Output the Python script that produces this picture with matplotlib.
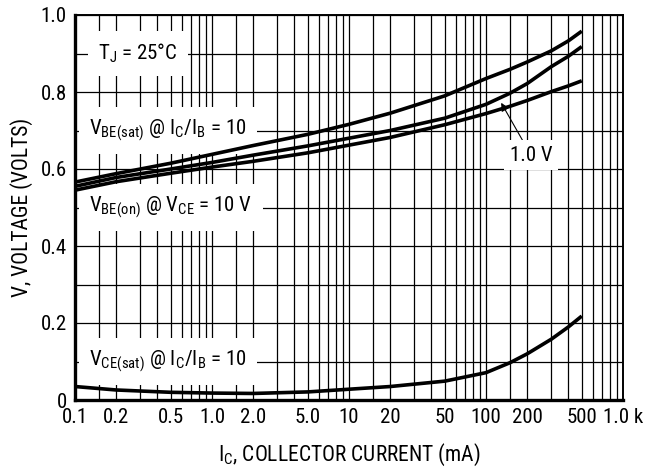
import matplotlib
matplotlib.use("Agg")
import matplotlib.pyplot as plt
import matplotlib.font_manager as fm
from matplotlib.ticker import FixedLocator, NullLocator

# ---- data ----
ic_ma = [0.1, 0.2, 0.5, 1, 2, 5, 10, 20, 50, 100, 150, 200, 300, 400, 500]
vbe_sat = [0.566, 0.588, 0.615, 0.638, 0.661, 0.690, 0.716, 0.745, 0.790, 0.835, 0.859, 0.878, 0.907, 0.933, 0.958]
vbe_on_1v = [0.555, 0.578, 0.600, 0.617, 0.636, 0.660, 0.680, 0.700, 0.732, 0.768, 0.797, 0.822, 0.866, 0.893, 0.918]
vbe_on_10v = [0.545, 0.567, 0.589, 0.605, 0.620, 0.642, 0.662, 0.682, 0.715, 0.744, 0.763, 0.778, 0.801, 0.816, 0.829]
vce_sat = [0.035, 0.026, 0.020, 0.018, 0.017, 0.021, 0.028, 0.035, 0.049, 0.071, 0.097, 0.120, 0.158, 0.190, 0.218]

x_ticks = [0.1, 0.2, 0.5, 1, 2, 5, 10, 20, 50, 100, 200, 500, 1000]
x_tick_labels = ["0.1", "0.2", "0.5", "1.0", "2.0", "5.0", "10", "20", "50", "100", "200", "500", "1.0 k"]
y_ticks = [0, 0.2, 0.4, 0.6, 0.8, 1.0]
y_tick_labels = ["0", "0.2", "0.4", "0.6", "0.8", "1.0"]
x_grid = [m * d for d in (0.1, 1, 10, 100) for m in (1, 1.5, 2, 3, 4, 5, 6, 7, 8, 9)] + [1000]
y_grid = [0.1 * k for k in range(11)]

# ---- pick a narrow sans font if one is installed ----
ttf = fm.fontManager.ttflist
family, stretch, narrow = "Liberation Sans", "normal", False
for cand in ["Liberation Sans Narrow", "Arial Narrow", "Roboto Condensed", "Nimbus Sans Narrow"]:
    if any(f.name == cand for f in ttf):
        family, narrow = cand, True
        break
else:
    for fam in ["Liberation Sans", "Roboto", "Noto Sans", "Open Sans", "DejaVu Sans"]:
        if any(f.name == fam and str(f.stretch) in ("condensed", "semi-condensed", "extra-condensed")
               for f in ttf):
            family, stretch, narrow = fam, "condensed", True
            break

plt.rcParams["font.family"] = [family, "DejaVu Sans"]
plt.rcParams["font.stretch"] = stretch
plt.rcParams["mathtext.fontset"] = "custom"
pattern = family + (":stretch=condensed" if stretch == "condensed" else "")
plt.rcParams["mathtext.rm"] = pattern
plt.rcParams["mathtext.it"] = pattern
plt.rcParams["mathtext.bf"] = pattern
plt.rcParams["mathtext.default"] = "regular"

FS = 15 if narrow else 13
FS_LAB = 15.5 if narrow else 13

fig = plt.figure(figsize=(6.52, 4.70), dpi=100)
ax = fig.add_axes([75 / 652, 1 - 400 / 470, (623 - 75) / 652, (400 - 15) / 470])
ax.set_xscale("log")
ax.set_xlim(0.1, 1000)
ax.set_ylim(0, 1.0)

# grid
for gx in x_grid:
    ax.axvline(gx, color="black", lw=0.9, zorder=1)
for gy in y_grid:
    ax.axhline(gy, color="black", lw=0.9, zorder=1)

# curves
for ys in (vbe_sat, vbe_on_1v, vbe_on_10v, vce_sat):
    ax.plot(ic_ma, ys, color="black", lw=2.6, solid_capstyle="butt", zorder=5)

# ticks
ax.xaxis.set_major_locator(FixedLocator(x_ticks))
ax.set_xticklabels(x_tick_labels)
ax.xaxis.set_minor_locator(NullLocator())
ax.set_yticks(y_ticks)
ax.set_yticklabels(y_tick_labels)
ax.tick_params(axis="both", length=0, labelsize=FS, pad=6)

for side in ("left", "bottom"):
    ax.spines[side].set_linewidth(2.4)
for side in ("top", "right"):
    ax.spines[side].set_linewidth(1.4)

ax.set_xlabel(r"I$_{C}$, COLLECTOR CURRENT (mA)", fontsize=FS_LAB, va="center", ha="center")
ax.xaxis.set_label_coords((349 - 75) / 548, -(455 - 400) / 385)
ax.set_ylabel("V, VOLTAGE (VOLTS)", fontsize=FS_LAB, va="center", ha="center")
ax.yaxis.set_label_coords(-(75 - 22) / 548, 0.5)

box = dict(facecolor="white", edgecolor="none", boxstyle="square,pad=0.5")
ax.text(0.147, 0.9, r"T$_{J}$ = 25°C", fontsize=FS, ha="left", va="center", bbox=box, zorder=3)
ax.text(0.127, 0.7, r"V$_{BE(sat)}$ @ I$_{C}$/I$_{B}$ = 10", fontsize=FS, ha="left", va="center", bbox=box, zorder=3)
ax.text(0.127, 0.5, r"V$_{BE(on)}$ @ V$_{CE}$ = 10 V", fontsize=FS, ha="left", va="center", bbox=box, zorder=3)
ax.text(0.127, 0.1, r"V$_{CE(sat)}$ @ I$_{C}$/I$_{B}$ = 10", fontsize=FS, ha="left", va="center", bbox=box, zorder=3)
small_box = dict(facecolor="white", edgecolor="none", boxstyle="square,pad=0.25")
ax.annotate("1.0 V", xy=(129, 0.772), xytext=(213, 0.636), fontsize=FS, ha="center", va="center",
            bbox=small_box, zorder=6,
            arrowprops=dict(arrowstyle="-|>", color="black", lw=0.8, mutation_scale=12, shrinkA=0, shrinkB=0))

fig.savefig("out.png", dpi=100)
